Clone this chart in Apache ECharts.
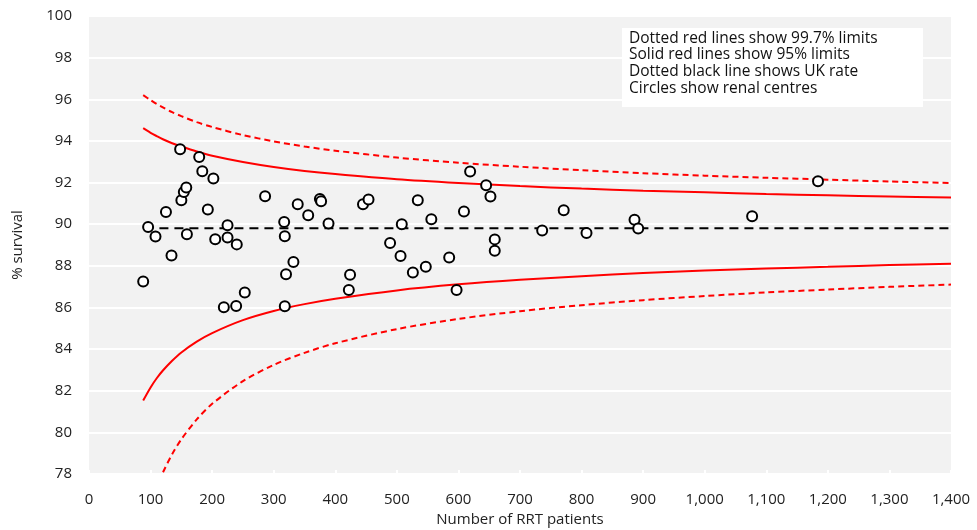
<!DOCTYPE html>
<html>
<head>
<meta charset="utf-8">
<script src="https://cdn.jsdelivr.net/npm/echarts@6/dist/echarts.min.js"></script>
<style>
  body { margin: 0; background: #fff; }
  #chart { width: 977px; height: 530px; }
</style>
</head>
<body>
<div id="chart"></div>
<script>
// renal centres: number of RRT patients and % survival
const centreN = [88, 96, 108, 125, 134, 148, 150, 154, 158, 159, 179, 184, 193, 202, 205, 219, 225, 225, 239, 240,
  253, 286, 317, 318, 318, 320, 332, 339, 356, 375, 377, 389, 422, 424, 445, 454, 489, 506, 508, 526,
  534, 547, 556, 585, 597, 609, 619, 645, 652, 659, 659, 736, 771, 808, 886, 892, 1077, 1184];
const centreSurvival = [87.25, 89.86, 89.41, 90.59, 88.50, 93.60, 91.15, 91.55, 91.76, 89.52, 93.23, 92.54, 90.70, 92.19, 89.28, 86.01, 89.95, 89.36, 86.07, 89.03,
  86.72, 91.34, 90.11, 89.42, 86.06, 87.60, 88.18, 90.96, 90.43, 91.21, 91.10, 90.03, 86.84, 87.57, 90.96, 91.18, 89.10, 88.47, 90.00, 87.68,
  91.15, 87.95, 90.24, 88.40, 86.84, 90.61, 92.53, 91.87, 91.33, 89.27, 88.72, 89.70, 90.67, 89.58, 90.21, 89.79, 90.38, 92.06];

// funnel limits
const limitN = [88, 100, 110, 120, 135, 150, 175, 200, 250, 300, 350, 400, 500, 600, 700, 800, 900, 1000, 1100, 1200, 1300, 1400];
const upper95 = [94.61, 94.39, 94.23, 94.08, 93.89, 93.73, 93.49, 93.29, 92.99, 92.75, 92.56, 92.41, 92.16, 91.98, 91.83, 91.71, 91.61, 91.53, 91.45, 91.39, 91.33, 91.28];
const lower95 = [81.53, 82.16, 82.60, 82.97, 83.44, 83.84, 84.36, 84.77, 85.39, 85.83, 86.16, 86.42, 86.82, 87.11, 87.33, 87.50, 87.65, 87.77, 87.87, 87.95, 88.04, 88.10];
const upper997 = [96.20, 95.96, 95.77, 95.61, 95.38, 95.19, 94.90, 94.67, 94.28, 93.98, 93.73, 93.53, 93.20, 92.95, 92.76, 92.59, 92.45, 92.33, 92.23, 92.14, 92.05, 91.98];
const lower997 = [75.37, 76.56, 77.38, 78.07, 78.95, 79.67, 80.62, 81.37, 82.46, 83.24, 83.82, 84.28, 84.96, 85.45, 85.82, 86.11, 86.35, 86.55, 86.72, 86.86, 86.99, 87.10];

const ukRate = 89.8;
const ukRange = [90, 1400];

const noteLines = [
  'Dotted red lines show 99.7% limits',
  'Solid red lines show 95% limits',
  'Dotted black line shows UK rate',
  'Circles show renal centres'
];

const font = 'Open Sans';
const zip = (xs, ys) => xs.map((x, i) => [x, ys[i]]);

const limitLine = (vals, dashed) => ({
  type: 'line',
  data: zip(limitN, vals),
  smooth: 0.3,
  symbol: 'none',
  clip: true,
  silent: true,
  lineStyle: { color: '#ff0000', width: 2, type: dashed ? [6, 4] : 'solid' },
  z: 2
});

const chart = echarts.init(document.getElementById('chart'));
chart.setOption({
  animation: false,
  grid: {
    left: 89, right: 26, top: 16, bottom: 56,
    containLabel: false,
    outerBoundsMode: 'none',
    show: true, backgroundColor: '#f2f2f2', borderWidth: 0
  },
  xAxis: {
    type: 'value',
    min: 0, max: 1400, interval: 100,
    name: 'Number of RRT patients',
    nameLocation: 'middle',
    nameGap: 37,
    nameTextStyle: { fontFamily: font, fontSize: 15, color: '#222' },
    axisLine: { show: false },
    axisTick: { show: true, inside: true, length: 4, lineStyle: { color: '#fff', width: 2 } },
    axisLabel: {
      fontFamily: font, fontSize: 15, color: '#222', margin: 18,
      formatter: v => v.toLocaleString('en-US')
    },
    splitLine: { show: false }
  },
  yAxis: {
    type: 'value',
    min: 78, max: 100, interval: 2,
    name: '% survival',
    nameLocation: 'middle',
    nameGap: 64,
    nameTextStyle: { fontFamily: font, fontSize: 15, color: '#222' },
    axisLine: { show: false },
    axisTick: { show: false },
    axisLabel: { fontFamily: font, fontSize: 15, color: '#222', margin: 17 },
    splitLine: { show: true, lineStyle: { color: '#ffffff', width: 2 } }
  },
  graphic: [
    {
      type: 'rect',
      shape: { x: 622, y: 28, width: 301, height: 79 },
      style: { fill: '#ffffff' },
      z: 100
    },
    {
      type: 'text',
      left: 629, top: 30,
      style: {
        text: noteLines.join('\n'),
        fontFamily: font, fontSize: 15.5, lineHeight: 16.6, fill: '#111'
      },
      z: 101
    }
  ],
  series: [
    limitLine(upper997, true),
    limitLine(lower997, true),
    limitLine(upper95, false),
    limitLine(lower95, false),
    {
      type: 'line',
      data: zip(ukRange, [ukRate, ukRate]),
      symbol: 'none',
      silent: true,
      lineStyle: { color: '#000', width: 2, type: [9, 6] },
      z: 2
    },
    {
      type: 'scatter',
      data: zip(centreN, centreSurvival),
      symbol: 'circle',
      symbolSize: 10,
      itemStyle: { color: '#ffffff', borderColor: '#000000', borderWidth: 2, opacity: 1 },
      z: 5
    }
  ]
});
</script>
</body>
</html>
